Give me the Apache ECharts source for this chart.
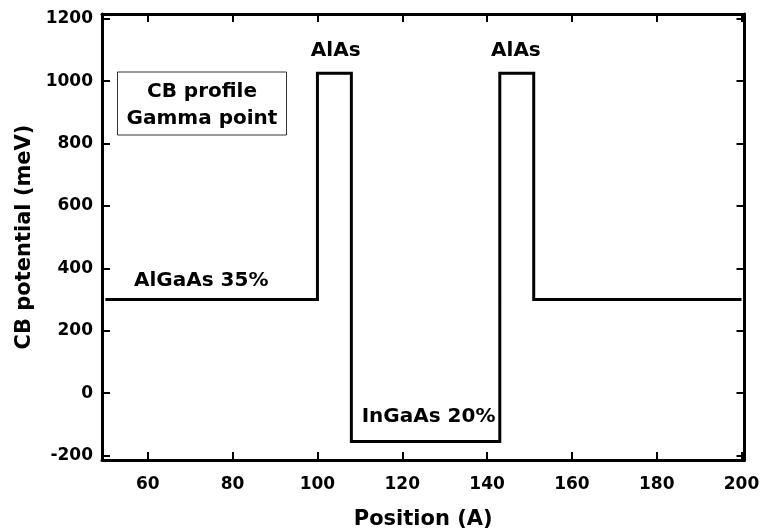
<!DOCTYPE html>
<html>
<head>
<meta charset="utf-8">
<script src="https://cdn.jsdelivr.net/npm/echarts@6/dist/echarts.min.js"></script>
<style>
  html, body { margin: 0; padding: 0; background: #fff; }
  #chart { width: 761px; height: 530px; }
</style>
</head>
<body>
<div id="chart"></div>
<script>
// conduction band profile, position in Angstrom, potential in meV
const profileX = [50, 100, 100, 108, 108, 143, 143, 151, 151, 200]
const profileY = [300, 300, 1025, 1025, -155, -155, 1025, 1025, 300, 300]

const xTicks = [60, 80, 100, 120, 140, 160, 180, 200]
const yTicks = [-200, 0, 200, 400, 600, 800, 1000, 1200]

const noteText = ['AlAs', 'AlAs', 'AlGaAs 35%', 'InGaAs 20%']
const noteX = [104.3, 146.8, 72.6, 126.2]
const noteY = [1096, 1096, 360, -74]

const FONT = 'DejaVu Sans'
const chart = echarts.init(document.getElementById('chart'))

const lineStyle = { color: '#000', width: 3 }
const tickStyle = { color: '#000', width: 2 }

function axisBase(ticks, extra) {
  return Object.assign({
    axisLine: { show: true, onZero: false, lineStyle },
    axisTick: { show: true, inside: true, length: 8, lineStyle: tickStyle, customValues: ticks },
    splitLine: { show: false }
  }, extra)
}

chart.setOption({
  animation: false,
  grid: { left: 102, right: 16.5, top: 14, bottom: 70, containLabel: false, outerBoundsMode: 'none' },
  xAxis: [
    axisBase(xTicks, {
      type: 'value', min: 49.2, max: 200.7, position: 'bottom',
      name: 'Position (A)', nameLocation: 'middle', nameGap: 49,
      nameTextStyle: { fontFamily: FONT, fontWeight: 'bold', fontSize: 21, color: '#000' },
      axisLabel: { customValues: xTicks, margin: 16, formatter: (v) => String(v), fontFamily: FONT, fontWeight: 'bold', fontSize: 17, color: '#000' }
    }),
    axisBase(xTicks, {
      type: 'value', min: 49.2, max: 200.7, position: 'top',
      axisLabel: { show: false }
    })
  ],
  yAxis: [
    axisBase(yTicks, {
      type: 'value', min: -214, max: 1215, position: 'left',
      name: 'CB potential (meV)', nameLocation: 'middle', nameGap: 62,
      nameTextStyle: { fontFamily: FONT, fontWeight: 'bold', fontSize: 21, color: '#000' },
      axisLabel: { customValues: yTicks, margin: 9, formatter: (v) => String(v), fontFamily: FONT, fontWeight: 'bold', fontSize: 17, color: '#000' }
    }),
    axisBase(yTicks, {
      type: 'value', min: -214, max: 1215, position: 'right',
      axisLabel: { show: false }
    })
  ],
  series: [
    {
      type: 'line',
      data: profileX.map((x, i) => [x, profileY[i]]),
      showSymbol: false,
      symbol: 'none',
      lineStyle: { color: '#000', width: 3, join: 'miter' }
    },
    {
      type: 'scatter',
      symbolSize: 0,
      itemStyle: { opacity: 1 },
      data: noteText.map((t, i) => ({ value: [noteX[i], noteY[i]], name: t })),
      label: {
        show: true,
        position: 'inside',
        formatter: (p) => p.name,
        opacity: 1,
        fontFamily: FONT, fontWeight: 'bold', fontSize: 20, color: '#000'
      },
      silent: true
    }
  ],
  graphic: [
    {
      type: 'rect',
      shape: { x: 117.5, y: 72, width: 169, height: 63 },
      style: { fill: '#fff', stroke: '#333', lineWidth: 1 }
    },
    {
      type: 'text',
      x: 202, y: 105,
      style: {
        text: 'CB profile\nGamma point',
        fontFamily: FONT, fontWeight: 'bold', fontSize: 20, lineHeight: 26.6,
        fill: '#000', align: 'center', verticalAlign: 'middle'
      }
    }
  ]
})
</script>
</body>
</html>
